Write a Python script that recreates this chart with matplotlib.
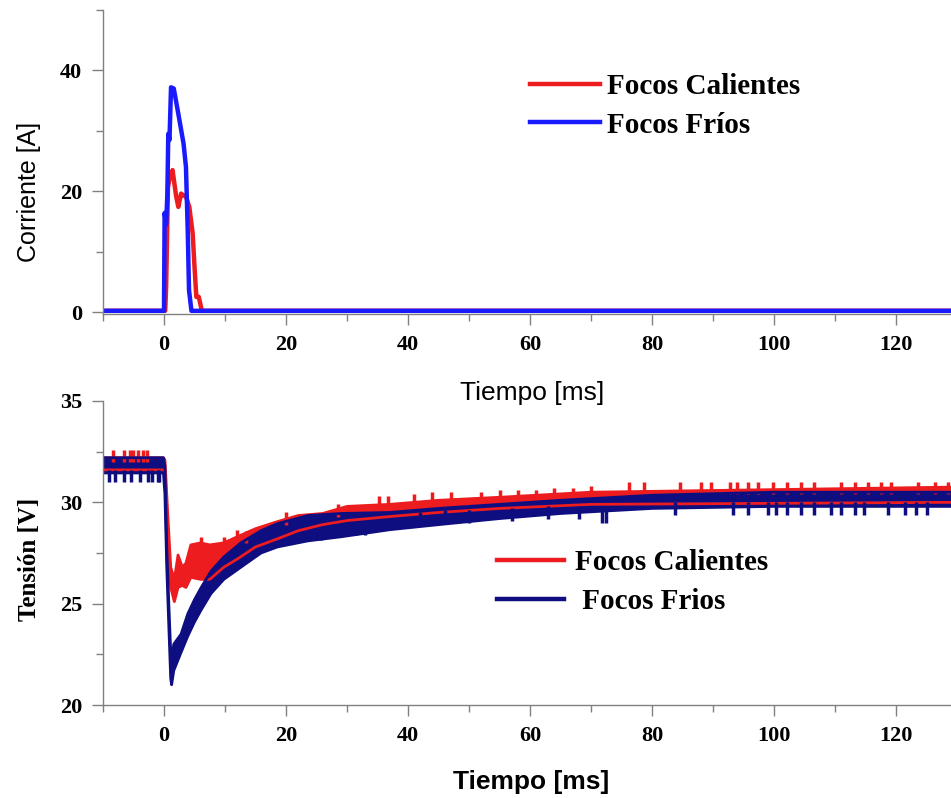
import matplotlib
matplotlib.use('Agg')
import matplotlib.pyplot as plt
from matplotlib.ticker import MultipleLocator

# Corriente (panel superior) [ms, A]
t_cur_cal = [-10, 0.2, 0.35, 0.65, 1.0, 1.4, 2.0, 2.35, 2.8, 3.2, 3.6, 4.15, 4.7, 5.0, 5.3, 5.7, 6.2, 129]
i_cur_cal = [0.2, 0.2, 4.2, 20.7, 22.5, 23.5, 19.1, 17.4, 19.6, 19.3, 19.1, 17.4, 13.0, 7.5, 2.5, 2.5, 0.2, 0.2]

t_cur_fri = [-10, 0.0, 0.1, 0.35, 0.55, 0.7, 0.9, 1.15, 1.6, 2.35, 3.2, 3.6, 3.9, 4.1, 4.5, 129]
i_cur_fri = [0.2, 0.2, 16.4, 14.5, 19.5, 29.5, 28.5, 37.2, 37.0, 32.8, 27.9, 24.0, 13.0, 3.6, 0.2, 0.2]

# Tension (panel inferior): banda de ruido [ms, V]
t_ten_cal = [-10, -0.1, 0.15, 0.3, 0.6, 1.1, 1.7, 2.3, 3.0, 3.6, 4.4, 6, 7.5, 9.8, 12, 15, 18.6, 22, 26, 30, 37, 45, 55, 70, 129]
v_cal_lo = [31.6, 31.6, 31.5, 30.6, 28.0, 25.8, 25.1, 25.8, 25.9, 25.8, 26.3, 26.2, 26.2, 26.8, 27.2, 27.8, 28.2,
            28.6, 28.9, 29.1, 29.3, 29.5, 29.7, 29.9, 30.0]
v_cal_hi = [32.2, 32.2, 32.1, 31.3, 29.5, 26.8, 26.2, 27.4, 26.8, 27.0, 27.9, 28.0, 27.9, 28.0, 28.3, 28.7, 29.05,
            29.35, 29.45, 29.8, 29.9, 30.1, 30.25, 30.5, 30.75]

t_ten_fri = [-10, -0.1, 0.15, 0.45, 0.8, 1.1, 1.25, 1.6, 2.8, 3.9, 5.0, 6.1, 7.7, 9.8, 12.6, 15.9, 18.6, 23.6, 29,
             37, 45, 55, 65, 80, 100, 129]
v_fri_lo = [31.45, 31.45, 30.4, 26.8, 23.8, 21.3, 21.0, 21.7, 22.6, 23.4, 24.1, 24.7, 25.5, 26.2, 26.8, 27.5, 27.8,
            28.1, 28.3, 28.65, 28.9, 29.2, 29.45, 29.7, 29.8, 29.8]
v_fri_hi = [32.2, 32.2, 31.8, 27.8, 24.9, 22.6, 22.2, 23.0, 23.5, 24.5, 25.2, 25.8, 26.6, 27.3, 28.0, 28.6, 28.95,
            29.35, 29.45, 29.5, 29.7, 29.9, 30.1, 30.35, 30.5, 30.5]

# picos visibles
cal_spk_t = [-8.4, -6.5, -5.5, -5.1, -4.3, -3.5, -2.8, 6.1, 9.8, 12.0, 13.5, 20.0, 28.5, 35.3, 36.7,
             41, 44, 47, 52, 55, 58, 61, 64, 67, 70, 76.3, 78.7, 84.5, 88.0, 89.7, 92.7, 94.0, 95.7, 97.3,
             99.8, 102.2, 104.4, 106.6, 111.0, 113.2, 115.4, 117.5, 119.2, 123.6, 126.3, 128.5]
cal_spk_v = [32.6, 32.6, 32.6, 32.6, 32.6, 32.6, 32.6, 28.3, 28.3, 28.65, 28.6, 29.5, 29.9, 30.3, 30.3,
             30.4, 30.5, 30.5, 30.5, 30.6, 30.6, 30.6, 30.7, 30.7, 30.8, 31.0, 31.0, 31.0, 31.0, 31.0, 31.0,
             31.0, 31.0, 31.0, 31.0, 31.0, 31.0, 31.0, 31.0, 31.0, 31.0, 31.0, 31.0, 31.0, 31.0, 31.0]

fri_dip_t = [-9.0, -8.1, -6.5, -5.4, -4.0, -2.7, -1.9, -1.0, -0.8, 25.0, 25.7, 31.4, 33.0, 42, 46, 50, 57, 63,
             68, 71.8, 72.4, 83.7, 93.2, 95.7, 99.0, 100.3, 102.2, 104.4, 106.6, 109.3, 111.0, 113.2, 114.8,
             118.6, 121.4, 123.3, 125.0]
fri_dip_v = [31.0, 31.0, 31.0, 31.0, 31.0, 31.0, 31.0, 31.0, 31.0, 28.15, 28.15, 28.4, 28.4, 28.9, 29.0, 29.0,
             29.1, 29.2, 29.2, 29.0, 29.0, 29.4, 29.4, 29.4, 29.4, 29.4, 29.4, 29.4, 29.4, 29.4, 29.4, 29.4,
             29.4, 29.4, 29.4, 29.4, 29.4]

c_red = '#ec1c1f'
c_blue = '#1a1aff'
c_navy = '#0e0e80'
serif_b = dict(family='Liberation Serif', weight='bold')


def style_axis(ax, ymaj, ymin):
    for s in ['top', 'right']:
        ax.spines[s].set_visible(False)
    for s in ['left', 'bottom']:
        ax.spines[s].set_color('#808080')
        ax.spines[s].set_linewidth(1.0)
    ax.xaxis.set_major_locator(MultipleLocator(20))
    ax.xaxis.set_minor_locator(MultipleLocator(10))
    ax.yaxis.set_major_locator(MultipleLocator(ymaj))
    ax.yaxis.set_minor_locator(MultipleLocator(ymin))
    ax.tick_params(which='major', direction='out', length=8, width=1, color='#808080', pad=7)
    ax.tick_params(which='minor', direction='out', length=5, width=1, color='#808080')
    for lab in ax.get_xticklabels() + ax.get_yticklabels():
        lab.set_fontfamily('Liberation Serif')
        lab.set_fontweight('bold')
        lab.set_fontsize(16)


fig = plt.figure(figsize=(9.51, 7.98), dpi=100)
ax1 = fig.add_axes([0.1083, 0.6065, 0.8917, 0.381])
ax2 = fig.add_axes([0.1083, 0.1165, 0.8917, 0.381])
ax2.set_facecolor('none')

# panel superior
ax1.plot(t_cur_cal, i_cur_cal, color=c_red, lw=3.2, label='Focos Calientes')
ax1.plot(t_cur_fri, i_cur_fri, color=c_blue, lw=3.2, label='Focos Fríos')
ax1.set_xlim(-10, 129)
ax1.set_ylim(-0.33, 50)
style_axis(ax1, 20, 10)
ax1.set_xlabel('Tiempo [ms]', family='Liberation Sans', fontsize=19, va='center')
ax1.xaxis.set_label_coords(0.506, -0.26)
ax1.set_ylabel('Corriente [A]', family='Liberation Sans', fontsize=18, va='center')
ax1.yaxis.set_label_coords(-0.087, 0.403)
leg1 = ax1.legend(loc='center left', bbox_to_anchor=(0.5573, 0.8675), bbox_transform=fig.transFigure,
                  frameon=False, borderpad=0, borderaxespad=0, handlelength=2.4, handletextpad=0.24,
                  labelspacing=0.4, prop=dict(family='Liberation Serif', weight='bold', size=21))
for ln in leg1.get_lines():
    ln.set_linewidth(3.2)

# panel inferior
ax2.fill_between(t_ten_cal, v_cal_lo, v_cal_hi, color=c_red, lw=0)
ax2.plot(t_ten_cal, v_cal_lo, color=c_red, lw=2)
ax2.plot(t_ten_cal, v_cal_hi, color=c_red, lw=2, label='Focos Calientes')
ax2.vlines(cal_spk_t, [v - 0.6 for v in cal_spk_v], cal_spk_v, color=c_red, lw=2.5)
ax2.fill_between(t_ten_fri, v_fri_lo, v_fri_hi, color=c_navy, lw=0)
ax2.plot(t_ten_fri, v_fri_lo, color=c_navy, lw=2)
ax2.plot(t_ten_fri, v_fri_hi, color=c_navy, lw=2, label=' Focos Frios')
ax2.vlines(fri_dip_t, fri_dip_v, [v + 0.6 for v in fri_dip_v], color=c_navy, lw=2.5)
ax2.set_xlim(-10, 129)
ax2.set_ylim(20, 35)
style_axis(ax2, 5, 2.5)
ax2.set_xlabel('Tiempo [ms]', family='Liberation Sans', weight='bold', fontsize=19, va='center')
ax2.xaxis.set_label_coords(0.505, -0.253)
ax2.set_ylabel('Tensión [V]', fontsize=18, va='center', **serif_b)
ax2.yaxis.set_label_coords(-0.087, 0.48)
leg2 = ax2.legend(loc='center left', bbox_to_anchor=(0.5223, 0.2705), bbox_transform=fig.transFigure,
                  frameon=False, borderpad=0, borderaxespad=0, handlelength=2.3, handletextpad=0.4,
                  labelspacing=0.4, prop=dict(family='Liberation Serif', weight='bold', size=21))
for ln in leg2.get_lines():
    ln.set_linewidth(3.2)

fig.savefig('out.png', dpi=100)
